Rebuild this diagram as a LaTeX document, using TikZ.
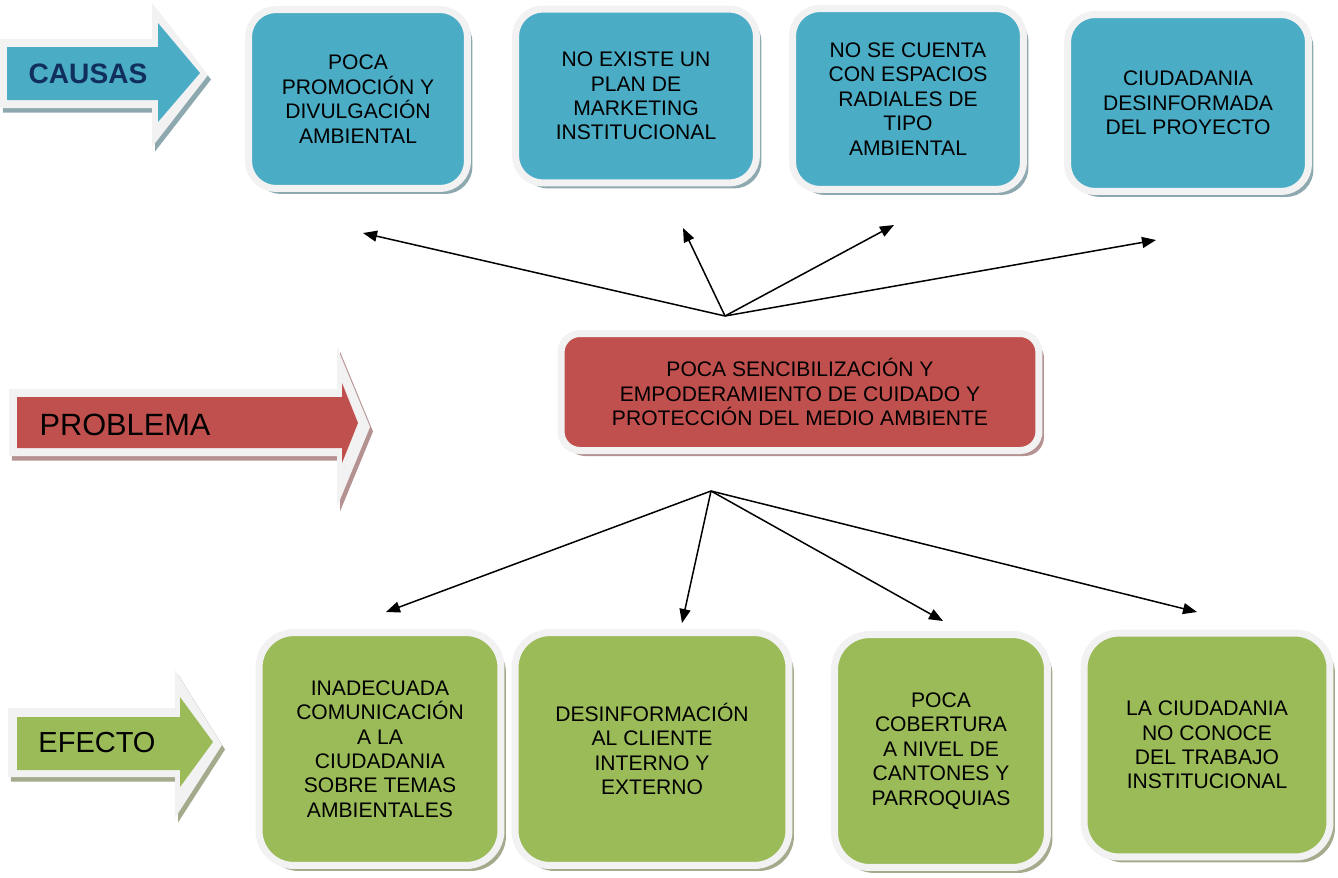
\documentclass[tikz,border=0pt]{standalone}
\usepackage{fontspec}
\setmainfont{Liberation Sans}
\usetikzlibrary{arrows.meta,shadows}
\definecolor{causeblue}{HTML}{4BACC6}
\definecolor{causeshade}{HTML}{8EA8B0}
\definecolor{problemred}{HTML}{C0504D}
\definecolor{problemshade}{HTML}{B59292}
\definecolor{effectgreen}{HTML}{9BBB59}
\definecolor{effectshade}{HTML}{A3AB8C}
\definecolor{framewhite}{HTML}{F2F2F2}
\definecolor{labelnavy}{HTML}{112F5C}
\begin{document}
\begin{tikzpicture}[x=0.02cm, y=-0.02cm,
    box/.style={draw=framewhite, line width=0.14cm, inner sep=0pt, align=center,
        font=\fontsize{12}{13.9}\selectfont},
    causebox/.style={box, rounded corners=0.55cm, fill=causeblue,
        drop shadow={shadow xshift=0.1cm, shadow yshift=-0.11cm, fill=causeshade, opacity=1}},
    problembox/.style={box, rounded corners=0.38cm, fill=problemred,
        drop shadow={shadow xshift=0.1cm, shadow yshift=-0.11cm, fill=problemshade, opacity=1}},
    effectbox/.style={box, rounded corners=0.7cm, fill=effectgreen,
        drop shadow={shadow xshift=0.1cm, shadow yshift=-0.11cm, fill=effectshade, opacity=1}},
    link/.style={-{Triangle[length=0.28cm,width=0.22cm]}, line width=0.03cm}]
    \useasboundingbox (0,0) rectangle (1338,877);

    % side arrows
    \fill[causeshade, xshift=0.06cm, yshift=-0.09cm] (0,39) -- (152,39) -- (152,3) -- (208,75) -- (152,147) -- (152,108) -- (0,108) -- cycle;
    \fill[framewhite] (0,39) -- (152,39) -- (152,3) -- (208,75) -- (152,147) -- (152,108) -- (0,108) -- cycle;
    \fill[causeblue] (7,47) -- (158,47) -- (158,23) -- (200,73) -- (158,122) -- (158,100) -- (7,100) -- cycle;
    \node[text=labelnavy, font=\fontsize{16}{18}\selectfont\bfseries] (causas) at (88,74) {CAUSAS};

    \fill[problemshade, xshift=0.06cm, yshift=-0.09cm] (9,389) -- (337,389) -- (337,347) -- (370,427) -- (337,507) -- (337,456) -- (9,456) -- cycle;
    \fill[framewhite] (9,389) -- (337,389) -- (337,347) -- (370,427) -- (337,507) -- (337,456) -- (9,456) -- cycle;
    \fill[problemred] (17,397) -- (342,397) -- (342,383) -- (358,423) -- (342,463) -- (342,448) -- (17,448) -- cycle;
    \node[font=\fontsize{17.5}{20}\selectfont] (problema) at (125,425) {PROBLEMA};

    \fill[effectshade, xshift=0.06cm, yshift=-0.09cm] (8,708) -- (175,708) -- (175,670) -- (222,745) -- (175,818) -- (175,777) -- (8,777) -- cycle;
    \fill[framewhite] (8,708) -- (175,708) -- (175,670) -- (222,745) -- (175,818) -- (175,777) -- (8,777) -- cycle;
    \fill[effectgreen] (17,717) -- (180,717) -- (180,697) -- (213,742) -- (180,787) -- (180,770) -- (17,770) -- cycle;
    \node[font=\fontsize{16.5}{20}\selectfont] (efecto) at (97,743) {EFECTO};

    % causas
    \node[causebox, minimum width=4.38cm, minimum height=3.58cm] (promocion) at (358,99) {POCA\\PROMOCIÓN Y\\DIVULGACIÓN\\AMBIENTAL};
    \node[causebox, minimum width=4.82cm, minimum height=3.48cm] (marketing) at (636,96) {NO EXISTE UN\\PLAN DE\\MARKETING\\INSTITUCIONAL};
    \node[causebox, minimum width=4.62cm, minimum height=3.62cm] (radiales) at (908,99) {NO SE CUENTA\\CON ESPACIOS\\RADIALES DE\\TIPO\\AMBIENTAL};
    \node[causebox, minimum width=4.82cm, minimum height=3.54cm] (desinformada) at (1188,103) {CIUDADANIA\\DESINFORMADA\\DEL PROYECTO};

    % problema
    \node[problembox, minimum width=9.56cm, minimum height=2.34cm] (sensibilizacion) at (800,392) {POCA SENCIBILIZACIÓN Y\\EMPODERAMIENTO DE CUIDADO Y\\PROTECCIÓN DEL MEDIO AMBIENTE};

    % efectos
    \node[effectbox, minimum width=4.84cm, minimum height=4.66cm] (comunicacion) at (380,749) {INADECUADA\\COMUNICACIÓN\\A LA\\CIUDADANIA\\SOBRE TEMAS\\AMBIENTALES};
    \node[effectbox, minimum width=5.48cm, minimum height=4.66cm] (cliente) at (652,749) {DESINFORMACIÓN\\AL CLIENTE\\INTERNO Y\\EXTERNO};
    \node[effectbox, minimum width=4.26cm, minimum height=4.66cm] (cobertura) at (941,751) {POCA\\COBERTURA\\A NIVEL DE\\CANTONES Y\\PARROQUIAS};
    \node[effectbox, minimum width=4.92cm, minimum height=4.48cm] (conoce) at (1207,745) {LA CIUDADANIA\\NO CONOCE\\DEL TRABAJO\\INSTITUCIONAL};

    % conectores
    \coordinate (tophub) at (725,316);
    \coordinate (c1) at (363,233);
    \coordinate (c2) at (683,228);
    \coordinate (c3) at (894,225);
    \coordinate (c4) at (1156,240);
    \coordinate (bothub) at (711,491);
    \coordinate (e1) at (386,612);
    \coordinate (e2) at (682,623);
    \coordinate (e3) at (943,621);
    \coordinate (e4) at (1197,612);
    \draw[link] (tophub) -- (c1);
    \draw[link] (tophub) -- (c2);
    \draw[link] (tophub) -- (c3);
    \draw[link] (tophub) -- (c4);
    \draw[link] (bothub) -- (e1);
    \draw[link] (bothub) -- (e2);
    \draw[link] (bothub) -- (e3);
    \draw[link] (bothub) -- (e4);
\end{tikzpicture}
\end{document}
